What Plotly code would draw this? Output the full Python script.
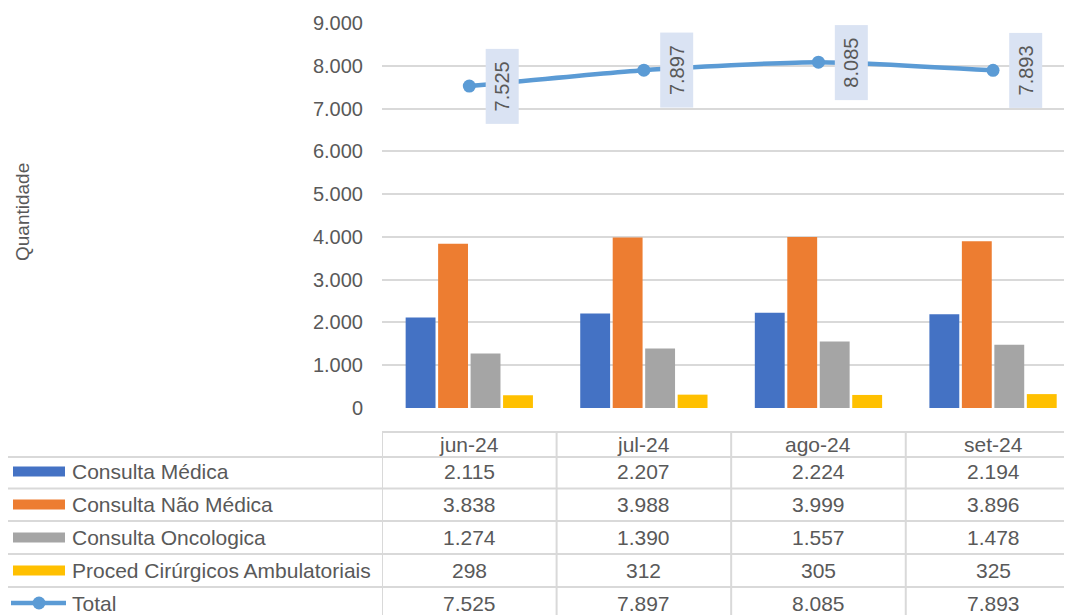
import plotly.graph_objects as go

# ---------------- data ----------------
months = ["jun-24", "jul-24", "ago-24", "set-24"]
consulta_medica = [2115, 2207, 2224, 2194]
consulta_nao_medica = [3838, 3988, 3999, 3896]
consulta_oncologica = [1274, 1390, 1557, 1478]
proced_cirurgicos = [298, 312, 305, 325]
total = [7525, 7897, 8085, 7893]

series_names = ["Consulta Médica", "Consulta Não Médica", "Consulta Oncologica",
                "Proced Cirúrgicos Ambulatoriais", "Total"]
y_ticks = [0, 1000, 2000, 3000, 4000, 5000, 6000, 7000, 8000, 9000]

# ---------------- styles ----------------
colors = ["#4472C4", "#ED7D31", "#A5A5A5", "#FFC000", "#5B9BD5"]
txt = "#595959"
grid = "#D9D9D9"
FONT = "Liberation Sans, Arial, sans-serif"

OFF = 8  # default page body margin
W, H = 1072 - OFF, 615 - OFF
PLOT_L, PLOT_T, PLOT_B = 382, 23, 408  # screen pixels
L, T = PLOT_L - OFF, PLOT_T - OFF
B = H - (PLOT_B - OFF)
R = 0
PW, PH = W - L - R, H - T - B


def px(xs):
    return (xs - OFF - L) / PW


def py(ys):
    return (PLOT_B - ys) / PH


def fmt(v):
    return f"{v:,}".replace(",", ".")


x_idx = list(range(len(months)))
fig = go.Figure()
bar_series = [consulta_medica, consulta_nao_medica, consulta_oncologica, proced_cirurgicos]
for name, vals, col in zip(series_names[:4], bar_series, colors[:4]):
    fig.add_trace(go.Bar(x=x_idx, y=vals, name=name, marker=dict(color=col, line=dict(width=0)),
                         showlegend=False))

fig.add_trace(go.Scatter(x=x_idx, y=total, name="Total", mode="lines+markers",
                         line=dict(color=colors[4], width=4.5, shape="spline", smoothing=0.6),
                         marker=dict(size=13, color=colors[4]), showlegend=False))

annotations = []
shapes = []
# data labels for total
for i, v in enumerate(total):
    annotations.append(dict(x=i, y=v, xref="x", yref="y", text=fmt(v), textangle=-90,
                            showarrow=False, xshift=33, bgcolor="#DAE3F3",
                            xanchor="center", yanchor="middle",
                            width=72, height=30, font=dict(size=20, color=txt, family=FONT)))

# y-axis title
annotations.append(dict(x=px(22), y=py(212), xref="paper", yref="paper", text="Quantidade",
                        textangle=-90, showarrow=False, xanchor="center", yanchor="middle",
                        font=dict(size=19, color=txt, family=FONT)))

# ---------------- data table ----------------
row_lines = [432, 457, 488.5, 521, 554, 587]
line_style = dict(color=grid, width=2)
shapes.append(dict(type="line", xref="paper", yref="paper", x0=px(382), x1=1.02,
                   y0=py(row_lines[0]), y1=py(row_lines[0]), line=line_style))
for yl in row_lines[1:]:
    shapes.append(dict(type="line", xref="paper", yref="paper", x0=px(5), x1=1.02,
                       y0=py(yl), y1=py(yl), line=line_style))
shapes.append(dict(type="line", xref="paper", yref="paper", x0=px(5), x1=px(5),
                   y0=py(457), y1=py(620), line=line_style))
for k in range(len(months)):
    shapes.append(dict(type="line", xref="x", yref="paper", x0=k - 0.5, x1=k - 0.5,
                       y0=py(432), y1=py(620), line=line_style))

for i, m in enumerate(months):
    annotations.append(dict(x=i, y=py(444), xref="x", yref="paper", text=m, showarrow=False,
                            xanchor="center", yanchor="middle",
                            font=dict(size=21, color=txt, family=FONT)))

row_centers = [471.5, 504.5, 537.5, 570.5, 603]
all_vals = bar_series + [total]
for r, (name, vals, col) in enumerate(zip(series_names, all_vals, colors)):
    yc = py(row_centers[r])
    annotations.append(dict(x=px(70), y=yc, xref="paper", yref="paper", text=name,
                            showarrow=False, xanchor="left", yanchor="middle",
                            font=dict(size=21, color=txt, family=FONT)))
    for i, v in enumerate(vals):
        annotations.append(dict(x=i, y=yc, xref="x", yref="paper", text=fmt(v),
                                showarrow=False, xanchor="center", yanchor="middle",
                                font=dict(size=21, color=txt, family=FONT)))
    if r < 4:
        shapes.append(dict(type="rect", xref="paper", yref="paper", x0=px(13), x1=px(65),
                           y0=py(row_centers[r] - 5), y1=py(row_centers[r] + 5),
                           fillcolor=col, line=dict(width=0)))
    else:
        shapes.append(dict(type="line", xref="paper", yref="paper", x0=px(11), x1=px(66),
                           y0=yc, y1=yc, line=dict(color=col, width=4.5)))
        shapes.append(dict(type="circle", xref="paper", yref="paper", x0=px(32.5), x1=px(45.5),
                           y0=py(row_centers[r] - 6.5), y1=py(row_centers[r] + 6.5),
                           fillcolor=col, line=dict(width=0)))

fig.update_layout(
    width=W, height=H,
    margin=dict(l=L, r=R, t=T, b=B, autoexpand=False),
    paper_bgcolor="white", plot_bgcolor="white",
    separators=",.",
    barmode="group", bargap=0.256, bargroupgap=0.08,
    font=dict(family=FONT, color=txt),
    xaxis=dict(range=[-0.5, (1072 - 469) / 174.67], showticklabels=False, showgrid=False,
               zeroline=False, showline=False, fixedrange=True),
    yaxis=dict(range=[0, 9000], tickvals=y_ticks, tickformat=",d", showgrid=True,
               gridcolor=grid, gridwidth=2, zeroline=False, showline=False,
               tickfont=dict(size=20, color=txt, family=FONT), ticks="",
               ticklabelstandoff=18),
    annotations=annotations, shapes=shapes,
)

fig.write_html("out.html")
